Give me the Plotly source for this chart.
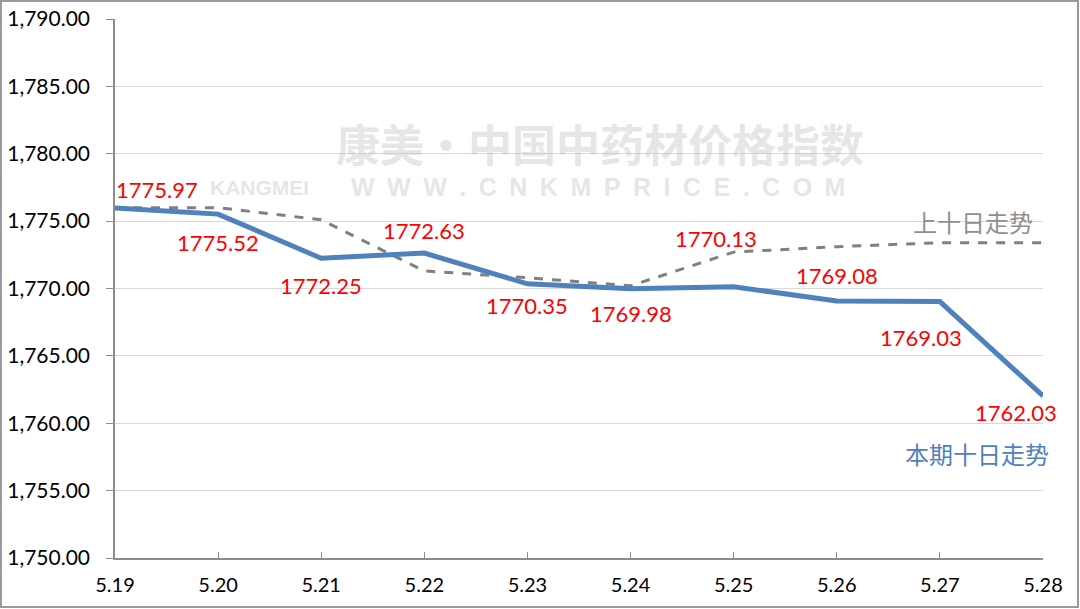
import plotly.graph_objects as go

dates = ["5.19", "5.20", "5.21", "5.22", "5.23", "5.24", "5.25", "5.26", "5.27", "5.28"]
current = [1775.97, 1775.52, 1772.25, 1772.63, 1770.35, 1769.98, 1770.13, 1769.08, 1769.03, 1762.03]
previous = [1776.0, 1776.0, 1775.1, 1771.3, 1770.8, 1770.2, 1772.7, 1773.1, 1773.4, 1773.4]
y_ticks = [1750, 1755, 1760, 1765, 1770, 1775, 1780, 1785, 1790]

# label offsets (pixels) for the data labels
label_shift = [(42, 19), (0, -28), (0, -27), (0, 23), (0, -22), (0, -25),
               (-18, 48), (0, 25), (-19, -36), (-27, -17)]

BLUE = "#4F81BD"
GRAY = "#808080"
FONT = "Lato, 'Noto Sans', sans-serif"
CJK = "'Noto Sans CJK SC', sans-serif"

fig = go.Figure()

fig.add_trace(go.Scatter(x=dates, y=previous, mode="lines", name="上十日走势",
                         line=dict(color=GRAY, width=3, dash="dash"),
                         hoverinfo="skip"))
fig.add_trace(go.Scatter(x=dates, y=current, mode="lines", name="本期十日走势",
                         line=dict(color=BLUE, width=5),
                         hoverinfo="skip"))

WM = "rgba(190,190,190,0.40)"
url_text = "\u2002".join("WWW.CNKMPRICE.COM")
annotations = []
# watermark
annotations.append(dict(x=(600 - 115) / 928, y=(558 - 143) / 539, xref="paper", yref="paper",
                        xanchor="center", yanchor="middle",
                        text="<b>康美·中国中药材价格指数</b>", showarrow=False,
                        font=dict(family=CJK, size=44, color=WM)))
annotations.append(dict(x=(259 - 115) / 928, y=(558 - 187) / 539, xref="paper", yref="paper",
                        xanchor="center", yanchor="middle",
                        text="<b>KANGMEI</b>", showarrow=False,
                        font=dict(family="'Liberation Sans Narrow', 'Liberation Sans', sans-serif",
                                  size=21, color=WM)))
annotations.append(dict(x=(598 - 115) / 928, y=(558 - 187) / 539, xref="paper", yref="paper",
                        xanchor="center", yanchor="middle",
                        text="<b>" + url_text + "</b>", showarrow=False,
                        font=dict(family="'Liberation Sans', sans-serif",
                                  size=25, color=WM)))

for i, (v, (dx, dy)) in enumerate(zip(current, label_shift)):
    annotations.append(dict(x=i, y=v, xref="x", yref="y", text=f"{v:.2f}",
                            showarrow=False, xshift=dx, yshift=dy,
                            font=dict(family=FONT, size=22, color="#FF0000")))

n = len(dates) - 1
annotations.append(dict(x=n, y=previous[-1], xref="x", yref="y",
                        text="上十日走势", showarrow=False, xshift=-70, yshift=21,
                        font=dict(family=CJK, size=24, color="#909090")))
annotations.append(dict(x=n, y=current[-1], xref="x", yref="y",
                        text="本期十日走势", showarrow=False, xshift=-66, yshift=-58,
                        font=dict(family=CJK, size=24, color=BLUE)))

fig.update_layout(
    width=1080, height=609,
    margin=dict(l=115, r=37, t=19, b=51, autoexpand=False),
    paper_bgcolor="white", plot_bgcolor="white",
    showlegend=False,
    annotations=annotations,
    shapes=[dict(type="rect", xref="paper", yref="paper",
                 x0=-114/928, x1=963/928, y0=-49/539, y1=557/539,
                 line=dict(color="#9a9a9a", width=2), layer="above")],
)
fig.update_xaxes(type="category", range=[0, 9], showgrid=False, automargin=False,
                 showline=True, linecolor="#8c8c8c", linewidth=1.5,
                 ticks="inside", ticklen=6, tickcolor="#8c8c8c",
                 ticklabelstandoff=8,
                 tickfont=dict(family=FONT, size=20, color="#000000"))
fig.update_yaxes(range=[1750, 1790], tickvals=y_ticks, tickformat=",.2f",
                 automargin=False,
                 showgrid=True, gridcolor="#d9d9d9", gridwidth=1.2,
                 showline=True, linecolor="#8c8c8c", linewidth=1.5,
                 ticks="outside", ticklen=7, tickcolor="#8c8c8c",
                 ticklabelstandoff=12,
                 zeroline=False,
                 tickfont=dict(family=FONT, size=21, color="#000000"))

fig.write_html("out.html", config={"displayModeBar": False},
               post_script="document.body.style.margin='0';document.body.style.overflow='hidden';")
